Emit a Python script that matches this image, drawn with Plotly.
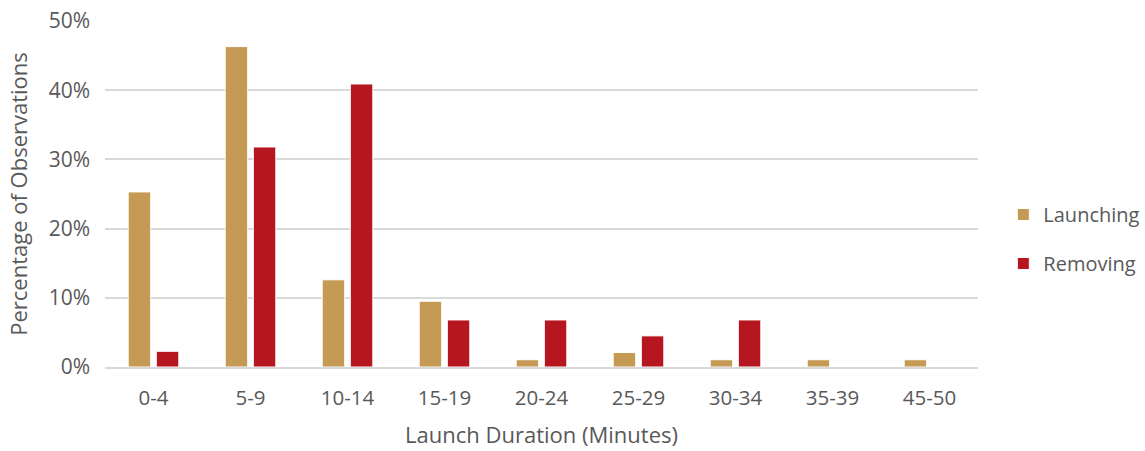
import plotly.graph_objects as go

# Launch duration bins (minutes)
categories = ["0-4", "5-9", "10-14", "15-19", "20-24", "25-29", "30-34", "35-39", "45-50"]

# Share of observations (%) per duration bin
launching = [25.3, 46.3, 12.6, 9.5, 1.05, 2.1, 1.05, 1.05, 1.05]
removing = [2.27, 31.8, 40.9, 6.8, 6.8, 4.5, 6.8, 0, 0]

y_ticks = [0, 10, 20, 30, 40, 50]
y_tick_labels = ["0%", "10%", "20%", "30%", "40%", "50%"]

text_color = "#595959"
font_family = "Open Sans, Lato, sans-serif"

fig = go.Figure()
fig.add_trace(go.Bar(
    x=categories, y=launching, name="Launching",
    marker=dict(color="#C49A54", line=dict(color="#FFFFFF", width=1)),
    legendgroup="a",
))
fig.add_trace(go.Bar(
    x=categories, y=removing, name="Removing",
    marker=dict(color="#B5161F", line=dict(color="#FFFFFF", width=1)),
    legendgroup="b",
))

fig.update_layout(
    width=1145, height=451,
    margin=dict(l=105, r=167, t=21, b=84, autoexpand=False),
    paper_bgcolor="white", plot_bgcolor="white",
    barmode="group", bargap=0.42, bargroupgap=0.2,
    font=dict(family=font_family, size=20, color=text_color),
    legend=dict(
        x=1.029, y=0.37, xanchor="left", yanchor="middle",
        font=dict(size=20, color=text_color),
        tracegroupgap=20, itemwidth=30,
    ),
    xaxis=dict(
        title=dict(text="Launch Duration (Minutes)", font=dict(size=22, color=text_color), standoff=18),
        showgrid=False, showline=True, linecolor="#D9D9D9", linewidth=2,
        ticks="", tickfont=dict(size=20.5, color=text_color), ticklabelstandoff=11,
        automargin=False,
    ),
    yaxis=dict(
        title=dict(text="Percentage of Observations", font=dict(size=22, color=text_color), standoff=14),
        range=[0, 50], tickvals=y_ticks, ticktext=y_tick_labels,
        showgrid=True, gridcolor="#D9D9D9", gridwidth=1.5,
        zeroline=False, ticks="", tickfont=dict(size=21, color=text_color),
        ticklabelstandoff=14, automargin=False,
    ),
)

fig.write_html("out.html")
